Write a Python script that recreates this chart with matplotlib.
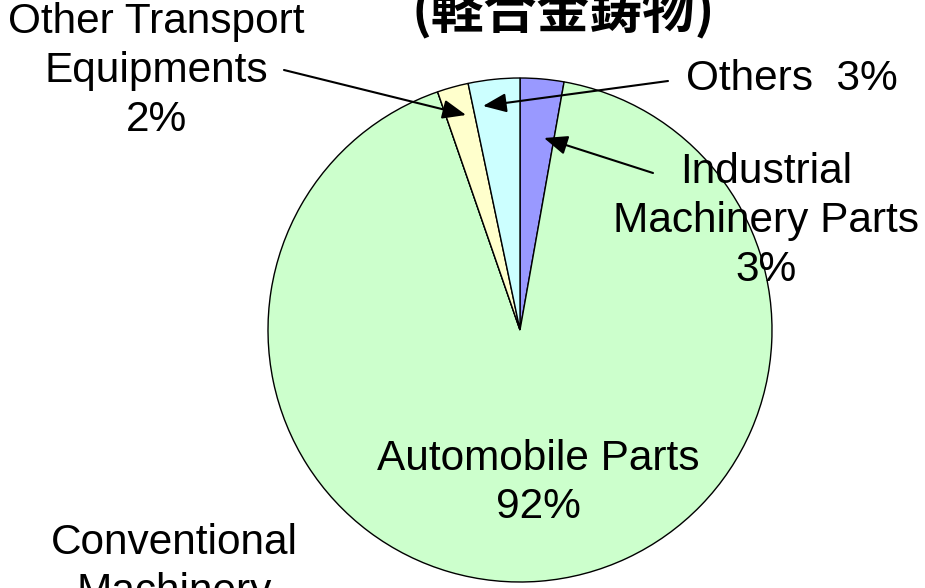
import matplotlib
matplotlib.use("Agg")
import matplotlib.pyplot as plt

# ---- data ----
categories = ["Industrial\nMachinery Parts", "Automobile Parts", "Conventional\nMachinery",
              "Other Transport\nEquipments", "Others"]
values = [2.8, 91.9, 0.0, 2.0, 3.3]
pct_labels = ["3%", "92%", "0%", "2%", "3%"]
colors = ["#9999FF", "#CCFFCC", "#FFFFFF", "#FFFFCC", "#CCFFFF"]
title = "(軽合金鋳物)"

W, H = 925, 588
fig = plt.figure(figsize=(W / 100, H / 100), dpi=100)
ax = fig.add_axes([0, 0, 1, 1])
ax.set_xlim(0, W)
ax.set_ylim(0, H)
ax.set_aspect("equal")
ax.axis("off")

def P(x, y):
    return (x, H - y)

cx, cy = P(520, 330)
ax.pie(values, colors=colors, startangle=90, counterclock=False,
       center=(cx, cy), radius=252, frame=True,
       wedgeprops=dict(edgecolor="black", linewidth=1.0))
ax.set_xlim(0, W)
ax.set_ylim(0, H)
ax.axis("off")

font = dict(family=["Liberation Sans", "DejaVu Sans"], fontsize=30.5, color="black",
            ha="center", va="center", linespacing=1.28)

# labels
ax.text(*P(766, 221), categories[0] + "\n" + pct_labels[0], **font)
ax.text(*P(538, 483), categories[1] + "\n" + pct_labels[1], **font)
ax.text(*P(174, 592), categories[2] + "\n" + pct_labels[2], **font)
ax.text(*P(156, 71), categories[3] + "\n" + pct_labels[3], **font)
ax.text(*P(792, 79), categories[4] + "  " + pct_labels[4], **font)

ax.text(*P(563, 11), title, family=["Noto Sans CJK JP", "DejaVu Sans"],
        fontsize=38, fontweight="bold", ha="center", va="center")

arrow = dict(arrowstyle="-|>,head_length=1.1,head_width=0.45", color="black",
             lw=1.5, shrinkA=0, shrinkB=0, mutation_scale=13)
ax.annotate("", xy=P(544, 138), xytext=P(653, 173), arrowprops=arrow)
ax.annotate("", xy=P(483, 106), xytext=P(668, 81), arrowprops=arrow)
ax.annotate("", xy=P(466, 115), xytext=P(284, 70), arrowprops=arrow)

fig.savefig("out.png", dpi=100, facecolor="white")
